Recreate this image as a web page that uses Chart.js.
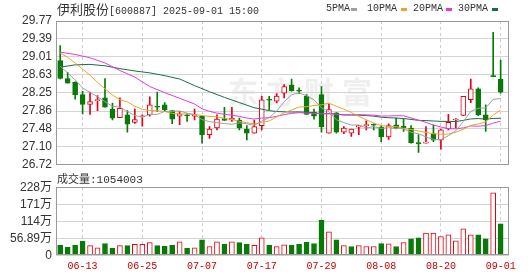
<!DOCTYPE html>
<html>
<head>
<meta charset="utf-8">
<script src="https://cdn.jsdelivr.net/npm/chart.js@4.4.1/dist/chart.umd.min.js"></script>
<style>
  body { margin: 0; width: 530px; height: 276px; position: relative; overflow: hidden; background: #fff; color: #333;
         font-family: "Liberation Mono", "Noto Sans CJK SC", monospace; }
  canvas { position: absolute; left: 0; }
  #k { top: 0; }
  #v { top: 176px; }
  .t { position: absolute; white-space: pre; font-size: 10px; line-height: 12px; z-index: 2; }
  .cjk { font-family: "Noto Sans CJK SC", sans-serif; }
  .mk { position: absolute; top: 8px; width: 6px; height: 3px; z-index: 2; }
</style>
</head>
<body>
<div class="t" style="left:57px;top:2px;line-height:14px"><span class="cjk" style="font-size:13px">伊利股份</span>[600887] 2025-09-01 15:00</div>
<div class="t" style="left:326px;top:3px">5PMA</div><div class="mk" style="left:351px;background:#a0a0a0"></div>
<div class="t" style="left:367px;top:3px">10PMA</div><div class="mk" style="left:401px;background:#eea429"></div>
<div class="t" style="left:413px;top:3px">20PMA</div><div class="mk" style="left:446px;background:#e23ce0"></div>
<div class="t" style="left:458px;top:3px">30PMA</div><div class="mk" style="left:492px;background:#1d6b45"></div>
<div class="t" style="left:57px;top:172px;font-size:11px"><span class="cjk">成交量</span>:1054003</div>
<canvas id="k" width="530" height="176"></canvas>
<canvas id="v" width="530" height="100"></canvas>
<script>
// 交易日
const dates = ['06-10','06-11','06-12','06-13','06-16','06-17','06-18','06-19','06-20','06-23',
  '06-24','06-25','06-26','06-27','06-30','07-01','07-02','07-03','07-04','07-07',
  '07-08','07-09','07-10','07-11','07-14','07-15','07-16','07-17','07-18','07-21',
  '07-22','07-23','07-24','07-25','07-28','07-29','07-30','07-31','08-01','08-04',
  '08-05','08-06','08-07','08-08','08-11','08-12','08-13','08-14','08-15','08-18',
  '08-19','08-20','08-21','08-22','08-25','08-26','08-27','08-28','08-29','09-01'];

const opens = [28.93,28.55,28.47,28.21,28.00,28.08,28.14,27.90,27.72,27.78,
  27.62,27.74,27.78,27.95,27.99,27.87,27.75,27.78,27.75,27.75,
  27.36,27.50,27.70,27.67,27.67,27.48,27.39,27.55,28.10,28.07,
  28.24,28.41,28.30,28.18,27.84,28.21,27.39,27.82,27.41,27.39,
  27.52,27.55,27.57,27.52,27.31,27.57,27.54,27.50,27.19,27.18,
  27.38,27.24,27.48,27.67,27.77,28.10,28.33,27.78,28.61,28.54];
const highs = [29.25,28.68,28.48,28.28,28.26,28.19,28.55,28.03,28.14,27.87,
  27.90,27.78,28.16,28.26,28.04,27.87,27.85,27.80,27.90,27.76,
  27.53,27.78,27.94,27.94,27.71,27.55,27.67,28.17,28.17,28.23,
  28.42,28.54,28.35,28.21,27.90,28.38,28.01,27.83,27.53,27.48,
  27.55,27.65,27.59,27.55,27.59,27.71,27.69,27.55,27.36,27.53,
  27.57,27.48,27.79,27.70,28.17,28.54,28.35,27.99,29.53,28.94];
const lows = [28.54,28.45,28.11,27.80,27.79,27.87,27.94,27.67,27.72,27.41,
  27.60,27.54,27.75,27.85,27.85,27.59,27.57,27.64,27.67,27.18,
  27.28,27.46,27.66,27.64,27.46,27.25,27.39,27.46,27.89,28.03,
  28.14,28.28,28.23,27.79,27.69,27.41,27.39,27.39,27.38,27.32,
  27.36,27.46,27.46,27.21,27.26,27.48,27.43,27.18,26.98,27.18,
  27.21,27.05,27.46,27.50,27.77,28.04,27.76,27.43,28.59,28.24];
const closes = [28.55,28.45,28.21,28.00,28.06,28.09,27.94,27.71,27.92,27.58,
  27.68,27.76,27.99,27.94,27.89,27.69,27.80,27.76,27.78,27.36,
  27.48,27.69,27.66,27.71,27.50,27.39,27.53,28.10,28.09,28.18,
  28.38,28.29,28.28,27.79,27.75,27.53,27.89,27.41,27.50,27.48,
  27.55,27.56,27.56,27.31,27.55,27.49,27.50,27.19,27.17,27.20,
  27.24,27.46,27.62,27.69,28.17,28.33,27.78,27.67,28.59,28.26];
// 成交量（万）
const volumes = [34,27,34,47,33,26,40,24,33,33,37,37,43,33,31,34,46,24,26,52,
  30,46,37,46,43,37,34,59,34,30,36,34,37,44,40,118,79,52,33,30,
  33,30,30,40,39,30,43,56,59,75,75,63,69,49,89,69,69,56,209,105.4];

// 窗口开始前的均线值（依赖更早数据，从图上读取）
const ma5Head = [28.81,28.67,28.52,28.35];
const ma10Head = [29.09,29.00,28.88,28.75,28.62,28.47,28.33,28.20,28.10];
const ma20Head = [29.11,null,29.06,null,28.99,null,28.88,null,28.72,null,
  28.58,null,28.38,null,28.25,null,28.13,null,28.01];
const ma30Head = [28.79,null,28.84,null,28.85,null,28.82,null,28.76,null,
  28.71,null,28.67,null,28.61,null,28.54,null,28.40,null,
  28.27,null,28.15,null,28.04,null,27.93,null,27.87];

const priceTicks = [26.72,27.10,27.48,27.86,28.25,28.63,29.01,29.39,29.77];
const volTicks = [0,56.89,114,171,228];
const dateTicks = [3,11,19,27,35,43,51,59];

const RED = '#e60012', GREEN = '#087a08';

function ma(n, head) {
  return closes.map((c, i) => {
    if (i < n - 1) return head[i];
    let s = 0;
    for (let j = i - n + 1; j <= i; j++) s += closes[j];
    return s / n;
  });
}
const pts = arr => arr.map((y, i) => ({ x: i, y: y }));
const up = closes.map((c, i) => c >= opens[i]);
const volUp = closes.map((c, i) => i === 0 ? c >= opens[0] : c >= closes[i - 1]);

const frame = {
  id: 'frame',
  beforeDraw(chart, args, opts) {
    if (!opts.mark) return;
    const ctx = chart.ctx;
    ctx.save();
    ctx.fillStyle = '#efefef';
    ctx.font = 'bold 30px "Noto Sans CJK SC"';
    ctx.textBaseline = 'middle';
    '东方财富'.split('').forEach((ch, i) => ctx.fillText(ch, 228 + i * 38, 92));
    ctx.restore();
  },
  afterDraw(chart) {
    const a = chart.chartArea, ctx = chart.ctx;
    ctx.save();
    ctx.strokeStyle = '#999';
    ctx.lineWidth = 1;
    ctx.strokeRect(Math.round(a.left) + 0.5, Math.round(a.top) + 0.5,
      Math.round(a.right - a.left) - 1, Math.round(a.bottom - a.top) - 1);
    ctx.restore();
  }
};

const xScale = (showLabels) => ({
  type: 'linear', min: -0.562, max: 60.12, offset: false,
  afterBuildTicks: s => { s.ticks = dateTicks.map(v => ({ value: v })); },
  afterFit: s => { s.height = showLabels ? 20.5 : 0; },
  ticks: { display: showLabels, autoSkip: false, maxRotation: 0, padding: 5, color: '#cc0000',
    font: { family: '"Liberation Mono"', size: 10 }, callback: v => dates[v] },
  grid: { color: '#cccccc', drawTicks: false, offset: false },
  border: { display: false, dash: [3, 3] }
});
const yFont = { family: '"Liberation Sans", "Noto Sans CJK SC"', size: 12 };

new Chart(document.getElementById('k'), {
  type: 'bar',
  data: {
    datasets: [
      { type: 'line', data: pts(ma(5, ma5Head)), borderColor: '#a0a0a0', borderWidth: 1, pointRadius: 0, spanGaps: true, order: 0 },
      { type: 'line', data: pts(ma(10, ma10Head)), borderColor: '#eea429', borderWidth: 1, pointRadius: 0, spanGaps: true, order: 0 },
      { type: 'line', data: pts(ma(20, ma20Head)), borderColor: '#e23ce0', borderWidth: 1, pointRadius: 0, spanGaps: true, order: 0 },
      { type: 'line', data: pts(ma(30, ma30Head)), borderColor: '#1d6b45', borderWidth: 1, pointRadius: 0, spanGaps: true, order: 0 },
      { data: opens.map((o, i) => ({ x: i, y: [o, closes[i]] })),
        backgroundColor: up.map(u => u ? '#fff' : GREEN), borderColor: up.map(u => u ? RED : GREEN),
        borderWidth: 1, borderSkipped: false, barThickness: 5, minBarLength: 1, grouped: false, order: 1 },
      { data: lows.map((l, i) => ({ x: i, y: [l, highs[i]] })),
        backgroundColor: up.map(u => u ? RED : GREEN), borderWidth: 0, barThickness: 1, grouped: false, order: 2 }
    ]
  },
  options: {
    responsive: false, animation: false, events: [],
    layout: { padding: { left: 0, right: 21, top: 21, bottom: 11 } },
    plugins: { legend: { display: false }, tooltip: { enabled: false }, frame: { mark: true } },
    scales: {
      x: xScale(false),
      y: {
        min: 26.72, max: 29.77,
        afterBuildTicks: s => { s.ticks = priceTicks.map(v => ({ value: v })); },
        afterFit: s => { s.width = 56; },
        ticks: { color: '#333', padding: 4, autoSkip: false, font: yFont, callback: v => v.toFixed(2) },
        grid: { color: '#d4d4d4', drawTicks: false },
        border: { display: false }
      }
    }
  },
  plugins: [frame]
});

new Chart(document.getElementById('v'), {
  type: 'bar',
  data: {
    datasets: [{
      data: volumes.map((v, i) => ({ x: i, y: v })),
      backgroundColor: volUp.map(u => u ? '#fff' : GREEN), borderColor: volUp.map(u => u ? RED : GREEN),
      borderWidth: 1, borderSkipped: false, barThickness: 5
    }]
  },
  options: {
    responsive: false, animation: false, events: [],
    layout: { padding: { left: 0, right: 21, top: 10, bottom: 0 } },
    plugins: { legend: { display: false }, tooltip: { enabled: false }, frame: { mark: false } },
    scales: {
      x: xScale(true),
      y: {
        min: 0, max: 228,
        afterBuildTicks: s => { s.ticks = volTicks.map(v => ({ value: v })); },
        afterFit: s => { s.width = 56; },
        ticks: { color: '#333', padding: 4, autoSkip: false, font: yFont, callback: v => v === 0 ? '0' : v + '万' },
        grid: { color: '#d4d4d4', drawTicks: false },
        border: { display: false }
      }
    }
  },
  plugins: [frame]
});
</script>
</body>
</html>
